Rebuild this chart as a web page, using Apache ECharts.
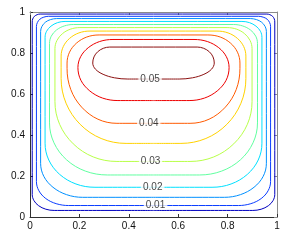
<!DOCTYPE html>
<html>
<head>
<meta charset="utf-8">
<script src="https://cdn.jsdelivr.net/npm/echarts@6/dist/echarts.min.js"></script>
<style>html,body{margin:0;padding:0;background:#fff}#c{width:291px;height:242px}</style>
</head>
<body>
<div id="c"></div>
<script>
// contour levels and their line colours (jet colormap)
const levels = [0.005, 0.01, 0.015, 0.02, 0.025, 0.03, 0.035, 0.04, 0.045, 0.05];
const levelColors = ['#0000c0', '#0a3cff', '#0090ff', '#00e0ff', '#60ffa0', '#b8ff48', '#ffd200', '#ff5a00', '#ee0000', '#8c1010'];

// contour paths [x, y] (closed loops)
const c005 = [[0.5,0.032],[0.902,0.032],[0.936,0.038],[0.965,0.055],[0.984,0.080],[0.991,0.110],[0.991,0.951],[0.989,0.966],[0.982,0.979],[0.971,0.987],[0.959,0.990],[0.5,0.990],[0.041,0.990],[0.029,0.987],[0.018,0.979],[0.011,0.966],[0.009,0.951],[0.009,0.110],[0.016,0.080],[0.035,0.055],[0.064,0.038],[0.098,0.032],[0.5,0.032]];
const c010 = [[0.5,0.056],[0.844,0.056],[0.894,0.065],[0.936,0.090],[0.964,0.128],[0.974,0.173],[0.974,0.930],[0.970,0.949],[0.960,0.965],[0.944,0.975],[0.925,0.979],[0.5,0.979],[0.075,0.979],[0.056,0.975],[0.040,0.965],[0.030,0.949],[0.026,0.930],[0.026,0.173],[0.036,0.128],[0.064,0.090],[0.106,0.065],[0.156,0.056],[0.5,0.056]];
const c015 = [[0.5,0.096],[0.787,0.096],[0.852,0.109],[0.907,0.145],[0.944,0.198],[0.957,0.262],[0.957,0.905],[0.952,0.929],[0.938,0.950],[0.917,0.963],[0.892,0.968],[0.5,0.968],[0.108,0.968],[0.083,0.963],[0.062,0.950],[0.048,0.929],[0.043,0.905],[0.043,0.262],[0.056,0.198],[0.093,0.145],[0.148,0.109],[0.213,0.096],[0.5,0.096]];
const c020 = [[0.5,0.145],[0.737,0.145],[0.814,0.161],[0.880,0.208],[0.924,0.278],[0.939,0.360],[0.939,0.876],[0.933,0.906],[0.915,0.931],[0.889,0.948],[0.858,0.954],[0.5,0.954],[0.142,0.954],[0.111,0.948],[0.085,0.931],[0.067,0.906],[0.061,0.876],[0.061,0.360],[0.076,0.278],[0.120,0.208],[0.186,0.161],[0.263,0.145],[0.5,0.145]];
const c025 = [[0.5,0.205],[0.686,0.205],[0.776,0.224],[0.852,0.279],[0.903,0.362],[0.921,0.459],[0.921,0.846],[0.914,0.882],[0.893,0.912],[0.861,0.932],[0.824,0.939],[0.5,0.939],[0.176,0.939],[0.139,0.932],[0.107,0.912],[0.086,0.882],[0.079,0.846],[0.079,0.459],[0.097,0.362],[0.148,0.279],[0.224,0.224],[0.314,0.205],[0.5,0.205]];
const c030 = [[0.5,0.271],[0.648,0.271],[0.744,0.293],[0.825,0.357],[0.880,0.452],[0.899,0.564],[0.899,0.822],[0.891,0.861],[0.869,0.894],[0.837,0.916],[0.798,0.924],[0.5,0.924],[0.202,0.924],[0.163,0.916],[0.131,0.894],[0.109,0.861],[0.101,0.822],[0.101,0.564],[0.120,0.452],[0.175,0.357],[0.256,0.293],[0.352,0.271],[0.5,0.271]];
const c035 = [[0.5,0.359],[0.611,0.359],[0.712,0.383],[0.797,0.452],[0.854,0.555],[0.874,0.676],[0.874,0.785],[0.865,0.832],[0.840,0.871],[0.802,0.898],[0.757,0.907],[0.5,0.907],[0.243,0.907],[0.198,0.898],[0.160,0.871],[0.135,0.832],[0.126,0.785],[0.126,0.676],[0.146,0.555],[0.203,0.452],[0.288,0.383],[0.389,0.359],[0.5,0.359]];
const c040 = [[0.5,0.457],[0.648,0.457],[0.725,0.477],[0.791,0.536],[0.835,0.622],[0.850,0.725],[0.850,0.751],[0.840,0.804],[0.812,0.848],[0.770,0.878],[0.720,0.888],[0.5,0.888],[0.280,0.888],[0.230,0.878],[0.188,0.848],[0.160,0.804],[0.150,0.751],[0.150,0.725],[0.165,0.622],[0.209,0.536],[0.275,0.477],[0.352,0.457],[0.5,0.457]];
const c045 = [[0.5,0.568],[0.644,0.568],[0.706,0.580],[0.758,0.615],[0.794,0.667],[0.806,0.729],[0.795,0.782],[0.764,0.826],[0.718,0.856],[0.664,0.866],[0.5,0.866],[0.336,0.866],[0.282,0.856],[0.236,0.826],[0.205,0.782],[0.194,0.729],[0.206,0.667],[0.242,0.615],[0.294,0.580],[0.356,0.568],[0.5,0.568]];
const c050 = [[0.5,0.673],[0.604,0.673],[0.658,0.679],[0.704,0.696],[0.735,0.721],[0.746,0.751],[0.741,0.781],[0.726,0.806],[0.703,0.823],[0.677,0.829],[0.5,0.829],[0.323,0.829],[0.297,0.823],[0.274,0.806],[0.259,0.781],[0.254,0.751],[0.265,0.721],[0.296,0.696],[0.342,0.679],[0.396,0.673],[0.5,0.673]];

// inline contour labels
const labelTexts = ['0.01', '0.02', '0.03', '0.04', '0.05'];
const labelX = [0.508, 0.497, 0.488, 0.481, 0.486];
const labelY = [0.056, 0.146, 0.271, 0.457, 0.673];

// axis ticks
const axisMin = 0, axisMax = 1, tickStep = 0.2;

const contours = [c005, c010, c015, c020, c025, c030, c035, c040, c045, c050];

const FONT = 'Liberation Sans, Arial, Helvetica, sans-serif';
const chart = echarts.init(document.getElementById('c'), null, {renderer: 'canvas'});

function axisBase(position, showLabel, dark, isX) {
  return {
    type: 'value', position: position, min: axisMin, max: axisMax, interval: tickStep,
    axisLine: {show: true, onZero: false, lineStyle: {color: dark ? '#303030' : '#8a8a8a', width: 1}},
    axisTick: {show: true, inside: true, length: 3, lineStyle: {color: dark ? '#303030' : '#8a8a8a', width: 1}},
    splitLine: {show: false},
    axisLabel: {show: showLabel, color: '#111', fontSize: 10, fontFamily: FONT, margin: isX ? 4 : 5}
  };
}

const series = contours.map((pts, i) => ({
  type: 'line', name: String(levels[i]), data: pts, showSymbol: false, symbol: 'none',
  smooth: 0.35, clip: false, silent: true,
  lineStyle: {color: levelColors[i], width: 1}, z: 2
}));

series.push({
  type: 'scatter', z: 5, symbolSize: 1, silent: true,
  itemStyle: {color: 'rgba(0,0,0,0)'},
  data: labelTexts.map((t, i) => [labelX[i], labelY[i], t]),
  label: {
    show: true, position: 'inside', formatter: p => p.value[2],
    color: '#111', fontSize: 10, fontFamily: FONT,
    backgroundColor: '#fff', padding: [0, 2], lineHeight: 8
  }
});

chart.setOption({
  animation: false,
  backgroundColor: '#fff',
  grid: {left: 30, right: 14, top: 12, bottom: 25},
  xAxis: [axisBase('bottom', true, true, true), axisBase('top', false, false, true)],
  yAxis: [axisBase('left', true, true, false), axisBase('right', false, false, false)],
  series: series
});
</script>
</body>
</html>
